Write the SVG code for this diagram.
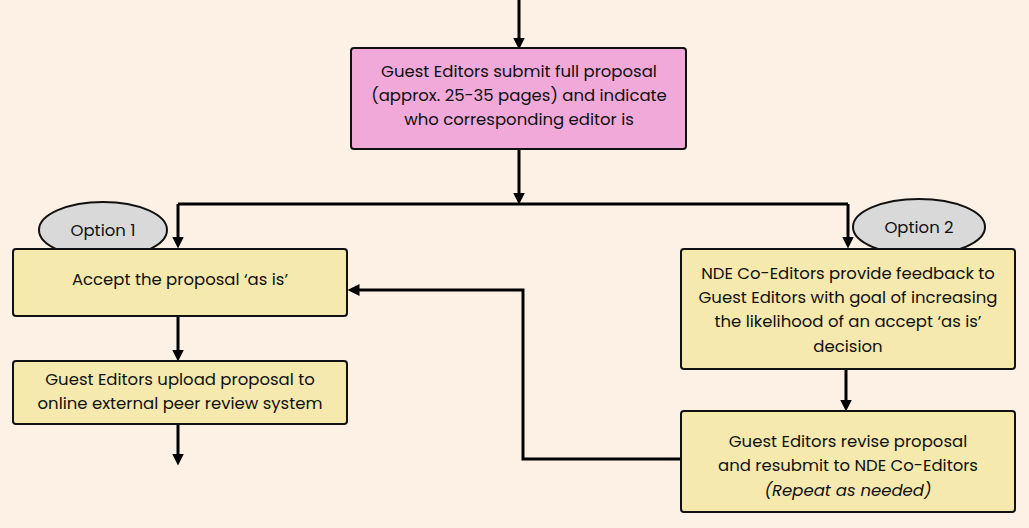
<svg xmlns="http://www.w3.org/2000/svg" width="1029" height="528" viewBox="0 0 1029 528">
<style>
.b{stroke:#111;stroke-width:2;}
.y{fill:#f5e9ae;}
.t{font-family:Poppins,"Open Sans","Noto Sans",sans-serif;font-size:16.5px;fill:#111;text-anchor:middle;}
.c{stroke:#000;stroke-width:3;fill:none;marker-end:url(#a);}
</style>
<defs><marker id="a" markerWidth="4" markerHeight="4" refX="2.5" refY="2" orient="auto"><path d="M0,0L4,2L0,4z" fill="#000"/></marker></defs>
<rect width="1029" height="528" fill="#fdf0e5"/>
<g id="connectors">
<path class="c" d="M519,0V45"/>
<path class="c" d="M519,150V200"/>
<path d="M178,204H848" stroke="#000" stroke-width="3"/>
<path class="c" d="M178,204V244"/>
<path class="c" d="M848,204V244"/>
<path class="c" d="M178,317V357"/>
<path class="c" d="M178,425V461"/>
<path class="c" d="M846,370V407"/>
<path class="c" d="M681,459H523V290H352"/>
</g>
<g id="proposal"><rect class="b" x="351" y="48" width="335" height="101" rx="3" fill="#f0a9d9"/>
<text class="t" x="519" y="77">Guest Editors submit full proposal</text>
<text class="t" x="519" y="101">(approx. 25-35 pages) and indicate</text>
<text class="t" x="519" y="125">who corresponding editor is</text></g>
<g id="option1"><ellipse class="b" cx="103" cy="230" rx="64" ry="28" fill="#d9d9d9"/><text class="t" x="103" y="236">Option 1</text></g>
<g id="option2"><ellipse class="b" cx="919" cy="227" rx="66" ry="28" fill="#d9d9d9"/><text class="t" x="919" y="233">Option 2</text></g>
<g id="accept"><rect class="b y" x="13" y="249" width="334" height="67" rx="3"/><text class="t" x="180" y="285">Accept the proposal ‘as is’</text></g>
<g id="upload"><rect class="b y" x="13" y="361" width="334" height="63" rx="3"/>
<text class="t" x="180" y="385">Guest Editors upload proposal to</text>
<text class="t" x="180" y="409">online external peer review system</text></g>
<g id="feedback"><rect class="b y" x="681" y="249" width="334" height="120" rx="3"/>
<text class="t" x="848" y="279">NDE Co-Editors provide feedback to</text>
<text class="t" x="848" y="303">Guest Editors with goal of increasing</text>
<text class="t" x="848" y="327">the likelihood of an accept ‘as is’</text>
<text class="t" x="848" y="352">decision</text></g>
<g id="revise"><rect class="b y" x="681" y="411" width="334" height="101" rx="3"/>
<text class="t" x="848" y="447">Guest Editors revise proposal</text>
<text class="t" x="848" y="471">and resubmit to NDE Co-Editors</text>
<text class="t" x="848" y="496" font-style="italic">(Repeat as needed)</text></g>
</svg>
